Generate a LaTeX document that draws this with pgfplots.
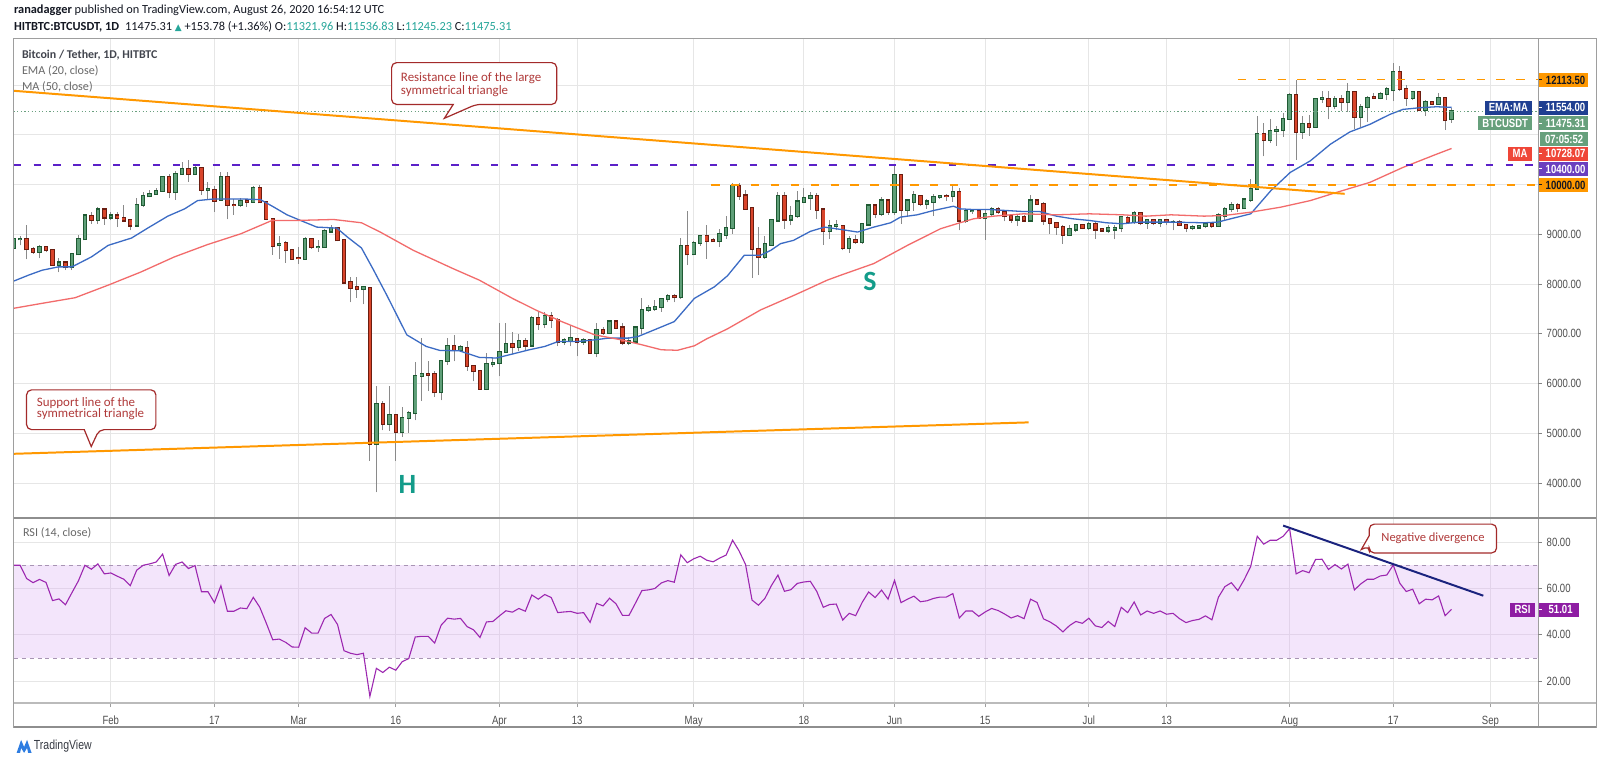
\documentclass[border=0pt]{standalone}
\usepackage{pgfplots}
\pgfplotsset{compat=1.18}
\usepackage{pgfplotstable}
\usepackage{fontspec}
\setmainfont{Carlito}
\newfontfamily\narrow[FakeStretch=0.8]{Liberation Sans}
\newfontfamily\dejavu{DejaVu Sans}
\definecolor{gridc}{HTML}{E6E6E6}
\definecolor{framec}{HTML}{9E9E9E}
\definecolor{gfill}{HTML}{5F9F78}
\definecolor{gedge}{HTML}{1F5A33}
\definecolor{rfill}{HTML}{D9452B}
\definecolor{redge}{HTML}{6B1D10}
\definecolor{wickc}{HTML}{8A8A8A}
\definecolor{emac}{HTML}{3B6BC4}
\definecolor{mac}{HTML}{F26B6B}
\definecolor{orng}{HTML}{FF9800}
\definecolor{violetc}{HTML}{5B21C8}
\definecolor{pricedot}{HTML}{6AA07F}
\definecolor{rsic}{HTML}{9C27B0}
\definecolor{bandc}{HTML}{D9A9F5}
\definecolor{banddash}{HTML}{A894B4}
\definecolor{navyc}{HTML}{1A237E}
\definecolor{tealc}{HTML}{139C8A}
\definecolor{callc}{HTML}{A32A2A}
\definecolor{calltext}{HTML}{B03A3A}
\definecolor{axtext}{HTML}{4F4F4F}
\definecolor{hdr}{HTML}{131722}
\definecolor{tvc}{HTML}{26A69A}
\definecolor{emabox}{HTML}{1F3F91}
\definecolor{grnbox}{HTML}{67A07C}
\definecolor{mabox}{HTML}{EF4638}
\definecolor{purbox}{HTML}{6B3FBF}
\definecolor{rsibox}{HTML}{8E1DA3}
\definecolor{tvblue}{HTML}{2E7DE1}

\pgfplotstableread{
d o h l c
16 8720 8990 8680 8900
17 8900 8960 8780 8910
20 8650 8780 8520 8740
23 8394 8527 8234 8434
25 8340 8607 8280 8600
26 8600 8980 8580 8900
27 8900 9400 8900 9380
29 9290 9547 9214 9500
31 9340 9460 9280 9380
35 9180 9727 9167 9594
36 9594 9860 9547 9767
37 9767 9900 9747 9814
38 9814 9927 9794 9880
39 9880 10180 9860 10147
41 9847 10280 9700 10214
42 10214 10460 10214 10314
44 10214 10380 10194 10327
46 9900 10060 9700 9914
48 9700 10260 9700 10147
51 9594 9727 9547 9674
53 9654 9980 9634 9927
57 8780 8960 8514 8814
61 8514 8947 8500 8900
63 8747 8880 8647 8750
64 8747 9114 8727 9060
65 9060 9180 9047 9127
70 7900 7967 7594 7940
72 4794 5947 3814 5580
74 5194 5947 5047 5367
76 5027 5527 4927 5314
77 5314 5447 5014 5407
78 5407 6434 5260 6147
79 6160 6914 5647 6194
82 5827 6480 5660 6460
83 6460 6914 6380 6747
85 6680 6780 6647 6727
89 5894 6614 5867 6394
90 6394 6514 6327 6414
91 6414 7214 6147 6634
92 6634 7214 6634 6794
94 6734 6994 6660 6860
96 6767 7367 6747 7327
98 7194 7447 7114 7360
101 6847 6914 6780 6867
102 6860 7180 6747 6914
104 6847 6914 6780 6867
106 6614 7214 6527 7080
108 7027 7280 6994 7247
111 6827 6927 6767 6860
112 6847 7147 6814 7127
113 7127 7727 6994 7480
114 7480 7580 7447 7514
115 7500 7680 7460 7534
116 7534 7714 7447 7700
117 7700 7794 7634 7767
119 7734 8927 7700 8767
121 8600 8860 8580 8834
122 8834 8994 8767 8967
125 8860 9100 8747 9014
126 8994 9380 8914 9134
127 9134 10034 9014 9981
132 8547 8967 8514 8814
133 8794 9314 8780 9280
134 9280 9847 9247 9767
136 9300 9580 9180 9367
137 9367 9880 9327 9660
138 9660 9927 9647 9727
139 9727 9860 9500 9767
142 9061 9280 8914 9167
143 9167 9280 9080 9180
145 8727 8967 8634 8900
147 8847 9214 8814 9200
148 9200 9614 9180 9580
150 9414 9747 9367 9680
152 9447 10367 9394 10194
154 9500 9714 9380 9680
155 9660 9880 9480 9794
157 9614 9714 9514 9660
158 9660 9814 9367 9747
159 9760 9794 9714 9774
161 9767 9980 9660 9860
163 9280 9514 9234 9467
164 9467 9514 9414 9474
166 9327 9514 8894 9414
167 9414 9547 9380 9514
171 9300 9394 9167 9347
173 9280 9794 9260 9680
179 8994 9194 8967 9100
180 9100 9214 9047 9180
182 9127 9247 9080 9214
185 9080 9180 9034 9127
186 9100 9180 8900 9127
187 9127 9380 9047 9347
189 9247 9480 9214 9427
191 9234 9314 9114 9280
193 9234 9314 9147 9280
195 9247 9280 9080 9254
198 9134 9180 9080 9147
199 9140 9194 9114 9167
200 9167 9247 9127 9214
202 9167 9434 9147 9380
203 9380 9547 9260 9514
204 9514 9660 9447 9594
206 9527 9727 9514 9700
207 9700 10114 9660 9914
208 9914 11381 9900 11014
210 10900 11327 10834 11080
211 11080 11180 10780 11100
212 11094 11447 10967 11327
213 11327 11847 11327 11794
215 11060 11380 10927 11214
217 11167 11747 11167 11727
218 11727 11880 11647 11734
220 11580 11780 11514 11727
222 11660 12047 11460 11860
224 11367 11614 11167 11567
225 11567 11780 11260 11747
227 11747 11860 11714 11827
228 11827 11967 11700 11914
229 11900 12447 11680 12260
232 11747 11880 11700 11860
234 11500 11700 11380 11660
236 11627 11834 11614 11747
238 11321.96 11536.83 11245.23 11475.31
}\greentab

\pgfplotstableread{
d o h l c
18 8910 9180 8500 8700
19 8700 8740 8610 8650
21 8740 8770 8640 8680
22 8680 8690 8380 8394
24 8434 8450 8280 8340
28 9370 9450 9214 9290
30 9500 9514 9194 9340
32 9380 9460 9147 9327
33 9327 9594 9247 9280
34 9290 9314 9080 9180
40 10147 10214 9727 9847
43 10314 10500 10060 10214
45 10327 10347 9794 9900
47 9900 9980 9447 9680
49 10147 10260 9300 9594
50 9594 9714 9394 9590
52 9680 9714 9547 9660
54 9927 10000 9634 9647
55 9647 9680 9280 9314
56 9314 9314 8594 8767
58 8827 8860 8427 8680
59 8680 8680 8494 8514
60 8527 8747 8414 8520
62 8900 8934 8714 8747
66 9127 9147 8860 8880
67 8880 8880 7994 8034
68 8034 8147 7634 7927
69 7940 8147 7727 7900
71 7927 7927 4447 4794
73 5580 5647 5060 5194
75 5367 5380 4447 5027
80 6194 6447 5847 6180
81 6194 6260 5727 5827
84 6747 6980 6447 6680
86 6714 6847 6260 6360
87 6360 6360 6047 6247
88 6247 6247 5880 5894
93 6794 7034 6594 6734
95 6860 6914 6680 6767
97 7327 7434 7080 7194
99 7360 7434 7114 7280
100 7280 7314 6747 6847
103 6894 6914 6547 6847
105 6867 6894 6600 6614
107 7080 7147 6980 7027
109 7247 7260 7100 7127
110 7127 7214 6767 6827
118 7767 7794 7634 7734
120 8767 9461 8380 8600
123 8967 9180 8514 8867
124 8894 8927 8847 8860
128 9981 10034 9700 9781
129 9781 9900 9500 9514
130 9527 9527 8127 8714
131 8714 9147 8180 8547
135 9767 9847 9114 9300
140 9767 9834 9314 9500
141 9500 9514 8794 9061
144 9167 9180 8680 8727
146 8894 8994 8814 8847
149 9580 9614 9327 9414
151 9680 9714 9394 9447
153 10194 10214 9214 9500
156 9767 9780 9567 9614
160 9774 9814 9680 9767
162 9860 9927 9080 9280
165 9467 9480 9300 9327
168 9514 9547 9414 9447
169 9447 9480 9260 9367
170 9367 9414 9234 9300
172 9347 9394 9247 9280
174 9680 9714 9594 9614
175 9614 9647 9194 9280
176 9300 9327 9014 9234
177 9234 9247 8994 9147
178 9147 9194 8814 8994
181 9180 9214 9100 9127
183 9214 9247 8914 9100
184 9100 9114 9047 9080
188 9327 9367 9214 9247
190 9427 9447 9180 9234
192 9280 9314 9180 9234
194 9280 9314 9180 9247
196 9247 9280 9180 9194
197 9180 9194 9047 9127
201 9214 9234 9127 9167
205 9594 9634 9447 9527
209 11014 11234 10567 10900
214 11794 12114 10500 11060
216 11214 11394 10980 11167
219 11727 11880 11314 11580
221 11727 11794 11480 11660
223 11860 11880 11114 11367
226 11754 11847 11714 11747
230 12260 12380 11880 11927
231 11914 12014 11580 11747
233 11860 11880 11480 11500
235 11660 11680 11594 11627
237 11747 11767 11100 11300
}\redtab

\pgfplotstableread{
d p
16 8061
18.3 8181
20.4 8280
22.9 8347
25 8347
28 8547
30.6 8780
34.2 8927
36.7 9127
39.8 9367
42.4 9514
44.4 9680
47 9714
51.1 9714
54.1 9700
56.2 9547
58.2 9394
60.3 9280
62.8 9147
65.9 9127
67.5 8950
69.7 8727
71.5 8300
73.6 7780
76.7 6980
79.7 6747
81.8 6667
84.8 6660
87.9 6527
90.5 6514
93 6594
95.6 6680
98 6747
100.1 6847
103.2 6847
105.7 6880
107.8 6914
110.9 6914
112.4 6947
114.9 7080
118 7247
121.1 7714
124.2 7947
126.2 8167
128.8 8580
131.3 8580
132.9 8680
134.4 8814
136.4 8880
139 9061
141.2 9147
143.7 9100
146.3 9047
148.8 9147
151.4 9234
152.9 9347
155.5 9394
158 9480
161.1 9567
162.1 9514
164.2 9500
166.7 9500
169.3 9480
171.9 9460
174.4 9460
177 9367
179.5 9314
182.1 9280
184.7 9234
187.2 9214
189.8 9247
194.7 9247
199.8 9234
201.9 9247
203.9 9314
207 9414
210.1 9880
213.1 10247
216.2 10480
219.3 10814
222.3 11061
225.4 11214
228.5 11414
230.5 11514
233.1 11547
235.7 11567
238 11554
}\ematab

\pgfplotstableread{
d p
16 7514
20.4 7614
25.5 7727
30.6 7980
35.7 8247
40.8 8547
45.9 8794
51.1 9014
55.9 9281
59.8 9281
65.4 9300
69.7 9234
72.6 9047
77.7 8680
83.8 8314
87.9 8080
93 7714
96.6 7480
100.6 7247
105.7 6980
109.8 6880
113 6780
116 6680
118.5 6670
121.1 6760
123 6900
126.2 7100
131.3 7480
136.4 7770
138.6 7900
141.6 8080
143.7 8180
148.8 8414
154 8780
159.1 9114
161.6 9214
164.2 9314
167.3 9367
171.9 9414
177 9394
182.1 9414
187.2 9394
190.8 9367
194.7 9394
199.8 9367
202.9 9380
207 9447
211.6 9547
216.2 9680
220.3 9847
225.4 10047
230.5 10347
235.7 10614
238 10728
}\matab

\pgfplotstableread{
d r
16 70.0
17 70.0
18 64.3
19 62.5
20 63.9
21 62.6
22 54.8
23 55.5
24 53.0
25 58.2
26 63.3
27 70.0
28 68.3
29 70.6
30 66.3
31 66.7
32 65.3
33 64.0
34 61.2
35 67.9
36 70.0
37 70.6
38 71.4
39 74.8
40 65.6
41 70.4
42 71.4
43 68.6
44 69.9
45 58.6
46 58.6
47 53.9
48 61.2
49 50.2
50 50.2
51 51.6
52 51.3
53 56.2
54 51.9
55 45.1
56 37.9
57 38.2
58 36.8
59 34.8
60 34.7
61 43.1
62 40.8
63 40.8
64 47.1
65 48.8
66 44.5
67 33.2
68 32.1
69 31.5
70 32.1
71 13.5
72 25.6
73 23.8
74 26.1
75 24.8
76 28.5
77 29.8
78 39.1
79 39.4
80 39.4
81 36.5
82 44.2
83 47.2
84 46.8
85 47.1
86 43.6
87 42.2
88 38.9
89 45.6
90 45.8
91 48.2
92 50.4
93 49.8
94 51.4
95 50.2
96 57.2
97 55.4
98 57.4
99 56.1
100 49.6
101 49.9
102 50.1
103 49.3
104 49.6
105 45.4
106 53.6
107 52.5
108 55.8
109 53.4
110 48.4
111 48.4
112 53.7
113 59.1
114 59.4
115 60.0
116 62.4
117 63.4
118 62.7
119 74.5
120 71.1
121 72.8
122 73.9
123 72.2
124 71.5
125 73.1
126 74.4
127 80.8
128 76.2
129 70.3
130 55.0
131 52.8
132 55.8
133 61.3
134 65.8
135 58.8
136 59.5
137 62.2
138 62.8
139 63.1
140 58.7
141 51.9
142 53.1
143 53.3
144 46.4
145 49.3
146 48.3
147 54.0
148 58.5
149 56.1
150 59.3
151 55.4
152 63.5
153 53.9
154 55.4
155 56.7
156 54.3
157 54.7
158 55.7
159 56.3
160 56.3
161 57.8
162 47.3
163 50.3
164 50.3
165 48.0
166 49.9
167 51.4
168 50.5
169 49.0
170 47.3
171 48.3
172 47.0
173 55.4
174 54.0
175 46.9
176 45.6
177 43.8
178 41.3
179 44.0
180 45.8
181 45.0
182 47.2
183 43.9
184 43.2
185 45.8
186 43.6
187 51.9
188 49.6
189 54.2
190 48.6
191 50.3
192 49.3
193 50.3
194 48.9
195 49.3
196 47.0
197 45.3
198 46.2
199 46.7
200 48.2
201 46.5
202 56.2
203 60.8
204 62.5
205 59.1
206 63.9
207 69.6
208 82.5
209 79.1
210 80.8
211 80.8
212 82.5
213 85.8
214 66.3
215 67.7
216 66.8
217 72.5
218 72.6
219 68.2
220 70.3
221 68.4
222 70.5
223 59.4
224 62.0
225 64.0
226 64.0
227 65.4
228 65.8
229 70.1
230 62.3
231 58.7
232 59.7
233 53.4
234 55.4
235 55.1
236 56.8
237 48.3
238 51.0
}\rsitab

\tikzset{
  lbox/.style={inner sep=0pt, minimum height=7pt, text height=4.3pt, text depth=0pt,
    font=\narrow\bfseries\fontsize{6}{6}\selectfont, text=white},
  axlab/.style={anchor=west, inner sep=0pt, font=\narrow\fontsize{6}{6}\selectfont, text=axtext},
}
\pgfplotsset{
  candle/.style={draw=none, mark=none, forget plot},
}

\begin{document}
\begin{tikzpicture}
\fill[white] (0pt,0pt) rectangle (800pt,381.5pt);

% ---------------- main price panel ----------------
\begin{axis}[
  at={(2.5pt,121pt)}, anchor=south west, scale only axis,
  width=766.5pt, height=241pt,
  xmin=16, xmax=251.4, ymin=3294, ymax=12934,
  axis line style={draw=none},
  scaled y ticks=false, scaled x ticks=false,
  xtick={31,47,60,75,91,103,121,138,152,166,182,194,213,229,244},
  xticklabels={},
  ytick={4000,5000,6000,7000,8000,9000,10000,11000,12000},
  yticklabels={},
  major tick length=0pt,
  tick style={draw=none},
  grid=major, major grid style={color=gridc, line width=0.5pt},
]
% wicks
\addplot[candle, error bars/.cd, y dir=plus, y explicit, error mark=none,
  error bar style={draw=wickc, line width=0.5pt}]
  table[x=d, y=l, y error plus expr={\thisrow{h}-\thisrow{l}}] {\greentab};
\addplot[candle, error bars/.cd, y dir=plus, y explicit, error mark=none,
  error bar style={draw=wickc, line width=0.5pt}]
  table[x=d, y=l, y error plus expr={\thisrow{h}-\thisrow{l}}] {\redtab};
% green bodies
\addplot[candle, error bars/.cd, y dir=plus, y explicit, error mark=none,
  error bar style={draw=gedge, line width=2.2pt}]
  table[x=d, y expr={\thisrow{o}-22}, y error plus expr={\thisrow{c}-\thisrow{o}+44}] {\greentab};
\addplot[candle, error bars/.cd, y dir=plus, y explicit, error mark=none,
  error bar style={draw=gfill, line width=1.3pt}]
  table[x=d, y=o, y error plus expr={\thisrow{c}-\thisrow{o}}] {\greentab};
% red bodies
\addplot[candle, error bars/.cd, y dir=plus, y explicit, error mark=none,
  error bar style={draw=redge, line width=2.2pt}]
  table[x=d, y expr={\thisrow{c}-22}, y error plus expr={\thisrow{o}-\thisrow{c}+44}] {\redtab};
\addplot[candle, error bars/.cd, y dir=plus, y explicit, error mark=none,
  error bar style={draw=rfill, line width=1.3pt}]
  table[x=d, y=c, y error plus expr={\thisrow{o}-\thisrow{c}}] {\redtab};
% moving averages
\addplot[emac, line width=0.65pt, mark=none] table[x=d, y=p] {\ematab};
\addplot[mac, line width=0.65pt, mark=none] table[x=d, y=p] {\matab};
% level lines
\addplot[pricedot, line width=0.5pt, mark=none, dash pattern=on 0.6pt off 1.2pt] coordinates {(16,11475.31) (251.4,11475.31)};
\addplot[violetc, line width=0.8pt, mark=none, dash pattern=on 3.7pt off 6.3pt] coordinates {(16,10400) (251.4,10400)};
\addplot[orng, line width=0.9pt, mark=none, dash pattern=on 4.2pt off 5.8pt] coordinates {(123.7,10000) (251.4,10000)};
\addplot[orng, line width=0.9pt, mark=none, dash pattern=on 4.2pt off 5.8pt] coordinates {(205,12113.5) (251.4,12113.5)};
% triangle lines
\addplot[orng, line width=1pt, mark=none] coordinates {(16,11888) (221.5,9816)};
\addplot[orng, line width=1pt, mark=none] coordinates {(16,4588) (172.7,5220)};
\end{axis}

% ---------------- RSI panel ----------------
\begin{axis}[
  at={(2.5pt,28pt)}, anchor=south west, scale only axis,
  width=766.5pt, height=93pt,
  xmin=16, xmax=251.4, ymin=10.6, ymax=90.3,
  axis line style={draw=none},
  scaled x ticks=false,
  xtick={31,47,60,75,91,103,121,138,152,166,182,194,213,229,244},
  xticklabels={Feb,17,Mar,16,Apr,13,May,18,Jun,15,Jul,13,Aug,17,Sep},
  xtick pos=bottom, xtick align=outside,
  xtick style={draw=framec, line width=0.5pt},
  major tick length=2pt,
  xticklabel style={font=\narrow\fontsize{6}{6}\selectfont, text=axtext, yshift=-1pt},
  ytick={20,40,60,80}, yticklabels={},
  ytick style={draw=none},
  grid=major, major grid style={color=gridc, line width=0.5pt},
]
\addplot[fill=bandc, fill opacity=0.3, draw=none, mark=none, forget plot] coordinates {(16,30) (251.4,30) (251.4,70) (16,70)} -- cycle;
\addplot[banddash, line width=0.5pt, mark=none, dash pattern=on 2pt off 2pt] coordinates {(16,70) (251.4,70)};
\addplot[banddash, line width=0.5pt, mark=none, dash pattern=on 2pt off 2pt] coordinates {(16,30) (251.4,30)};
\addplot[rsic, line width=0.55pt, mark=none] table[x=d, y=r] {\rsitab};
\addplot[navyc, line width=1pt, mark=none] coordinates {(212,87.1) (242.9,56.9)};
\end{axis}

\begin{scope}[x=0.5pt, y=-0.5pt, yshift=381.5pt]
% ---------------- frame ----------------
\draw[framec, line width=0.5pt] (5,39) rectangle (1596,731);
\draw[framec, line width=0.5pt] (1538,39) -- (1538,731);
\draw[framec!90!black, line width=0.9pt] (5,521) -- (1596,521);
\draw[framec!70, line width=0.8pt] (5,707) -- (1596,707);
\draw[framec!90!black, line width=0.9pt] (5,731) -- (1596,731);

% ---------------- right scale labels ----------------
\foreach \yy/\lab in {235.7/9000.00, 285.7/8000.00, 335.7/7000.00, 385.7/6000.00, 435.7/5000.00, 485.7/4000.00,
                     545/80.00, 591.7/60.00, 638.3/40.00, 685/20.00}{
  \draw[axtext!70, line width=0.5pt] (1538,\yy) -- (1542,\yy);
  \node[axlab] at (1546,\yy) {\lab};
}
% value boxes
\node[lbox, anchor=west, fill=orng, text=hdr, minimum width=25pt] at (1538,80.3) {\hspace{2pt}12113.50};
\draw[hdr, line width=0.5pt] (1539,80.3) -- (1542,80.3);
\node[lbox, anchor=east, fill=emabox, inner xsep=2pt, minimum width=22.5pt] at (1532,108.3) {EMA:MA};
\node[lbox, anchor=west, fill=emabox, minimum width=25pt] at (1538,108.3) {\hspace{2pt}11554.00};
\draw[white, line width=0.5pt] (1539,108.3) -- (1542,108.3);
\node[lbox, anchor=east, fill=grnbox, inner xsep=2pt, minimum width=25pt] at (1532,123.7) {BTCUSDT};
\node[lbox, anchor=west, fill=grnbox, minimum width=25pt] at (1538,123.7) {\hspace{2pt}11475.31};
\draw[white, line width=0.5pt] (1539,123.7) -- (1542,123.7);
\node[lbox, anchor=west, fill=grnbox, minimum width=24.5pt] at (1539,139.7) {07:05:52};
\node[lbox, anchor=east, fill=mabox, inner xsep=2pt, minimum width=12pt] at (1532,154.5) {MA};
\node[lbox, anchor=west, fill=mabox, minimum width=25pt] at (1538,154.5) {\hspace{2pt}10728.07};
\draw[white, line width=0.5pt] (1539,154.5) -- (1542,154.5);
\node[lbox, anchor=west, fill=purbox, minimum width=25pt] at (1538,169.8) {\hspace{2pt}10400.00};
\draw[white, line width=0.5pt] (1539,169.8) -- (1542,169.8);
\node[lbox, anchor=west, fill=orng, text=hdr, minimum width=25pt] at (1538,186) {\hspace{2pt}10000.00};
\draw[hdr, line width=0.5pt] (1539,186) -- (1542,186);
\node[lbox, anchor=east, fill=rsibox, inner xsep=2pt, minimum width=12.5pt] at (1535,613) {RSI};
\node[lbox, anchor=west, fill=rsibox, minimum width=20pt] at (1538,613) {\hspace{2pt}51.01};
\draw[white, line width=0.5pt] (1539,613) -- (1542,613);

% ---------------- header and legends ----------------
\node[anchor=west, inner sep=0pt, font=\fontsize{6.2}{7}\selectfont, text=hdr] at (5,10)
  {\textbf{ranadagger} published on TradingView.com, August 26, 2020 16:54:12 UTC};
\node[anchor=west, inner sep=0pt, font=\fontsize{6.2}{7}\selectfont, text=hdr] at (5,27)
  {\textbf{HITBTC:BTCUSDT, 1D}\enspace 11475.31 {\color{tvc}\dejavu\fontsize{4.5}{5}\selectfont ▲} +153.78 (+1.36\%)
   O:{\color{tvc}11321.96} H:{\color{tvc}11536.83} L:{\color{tvc}11245.23} C:{\color{tvc}11475.31}};
\node[anchor=west, inner sep=0pt, font=\bfseries\fontsize{6}{7}\selectfont, text=hdr!80] at (13,55) {Bitcoin / Tether, 1D, HITBTC};
\node[anchor=west, inner sep=0pt, font=\fontsize{6.1}{7}\selectfont, text=axtext!85] at (13,71.5) {EMA (20, close)};
\node[anchor=west, inner sep=0pt, font=\fontsize{6.1}{7}\selectfont, text=axtext!85] at (13,87.5) {MA (50, close)};
\node[anchor=west, inner sep=0pt, font=\fontsize{6.1}{7}\selectfont, text=axtext!85] at (14,536) {RSI (14, close)};

% ---------------- callouts ----------------
\draw[callc, line width=0.6pt, fill=white, rounded corners=2.5pt]
  (385,63) -- (551,63) -- (551,105) -- (470,105) [sharp corners] -- (438,119) -- (447,105) [rounded corners=2.5pt] -- (385,105) -- cycle;
\node[anchor=west, inner sep=0pt, align=left, font=\fontsize{6.5}{5.6}\selectfont, text=calltext] at (394,85)
  {Resistance line of the large\\symmetrical triangle};
\draw[callc, line width=0.6pt, fill=white, rounded corners=2.5pt]
  (18,392) -- (148,392) -- (148,432) -- (91,432) [sharp corners] -- (83,449) -- (76,432) [rounded corners=2.5pt] -- (18,432) -- cycle;
\node[anchor=west, inner sep=0pt, align=left, font=\fontsize{6.5}{5.6}\selectfont, text=calltext] at (28,411)
  {Support line of the\\symmetrical triangle};
\draw[callc, line width=0.6pt, fill=white, rounded corners=2.5pt]
  (1368,527) -- (1496,527) -- (1496,556) -- (1368,556) -- (1368,549) [sharp corners] -- (1360,552.5) -- (1368,538.5) [rounded corners=2.5pt] -- cycle;
\node[inner sep=0pt, font=\fontsize{6.3}{7}\selectfont, text=calltext] at (1432,541.5) {Negative divergence};

% pattern letters
\node[inner sep=0pt, font=\bfseries\fontsize{14}{14}\selectfont, text=tealc] at (401,487) {H};
\node[inner sep=0pt, font=\bfseries\fontsize{14}{14}\selectfont, text=tealc] at (866,283) {S};

% logo
\fill[tvblue] (8,757) -- (12.5,744) -- (15.5,751) -- (18.5,744) -- (23,757) -- (19.5,757) -- (18.5,752) -- (15.5,757) -- (12.5,752) -- (11.5,757) -- cycle;
\node[anchor=west, inner sep=0pt, font=\narrow\fontsize{6.6}{7}\selectfont, text=hdr!85] at (25,750.5) {TradingView};
\end{scope}
\end{tikzpicture}
\end{document}
